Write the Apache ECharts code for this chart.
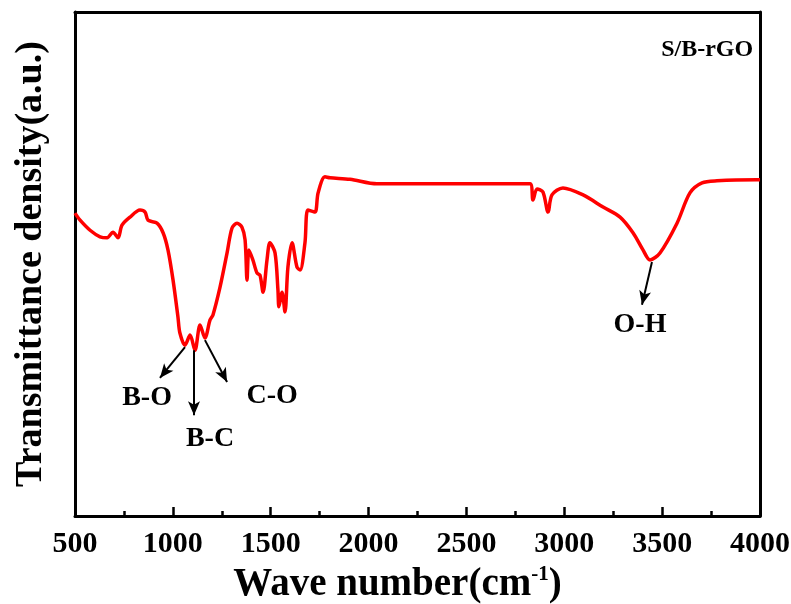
<!DOCTYPE html>
<html><head><meta charset="utf-8">
<script src="https://cdn.jsdelivr.net/npm/echarts@6/dist/echarts.min.js"></script>
<style>html,body{margin:0;padding:0;background:#fff}#c{width:791px;height:604px}</style>
</head><body><div id="c"></div>
<script>
var waveNumbers = [500,526,577,628,664,694,720,740,781,832,858,873,919,950,975,1001,1026,1036,1062,1088,1113,1139,1164,1190,1205,1241,1277,1302,1328,1353,1369,1379,1389,1409,1430,1445,1461,1481,1496,1522,1537,1542,1558,1573,1588,1609,1634,1650,1675,1690,1726,1742,1777,1803,1905,2043,2416,2825,2840,2861,2891,2917,2937,2993,3096,3198,3285,3351,3402,3438,3489,3576,3642,3704,3780,3985,4000];
var transmittance = [60.1,58.7,56.7,55.4,55.2,56.3,55.2,57.7,59.3,60.7,60.3,58.7,58.1,56.2,52.8,46.8,39.5,36.3,33.9,35.9,32.9,37.9,35.3,38.9,39.9,45.4,52.2,57.1,58.1,57.3,54.8,46.8,52.8,50.8,48.2,47.8,44.4,50.8,54.2,52.2,44.8,41.5,44.4,40.5,49.4,54.2,49.4,48.8,54.2,60.7,60.3,64.1,67.3,67.1,66.8,65.9,65.9,65.9,62.7,64.9,64.3,60.3,63.7,65.1,63.7,61.3,59.3,56.2,52.8,50.8,52.2,58.1,64.1,66.1,66.5,66.7,66.7];
var xTicks = [500,1000,1500,2000,2500,3000,3500,4000];
var peakLabels = ['B-O','B-C','C-O','O-H'];
var arrowStarts = [[1062,33.5],[1108,32.9],[1164,34.9],[3448,50.4]];
var arrowEnds = [[934,27.4],[1108,20.0],[1277,26.6],[3397,41.9]];
var labelPos = [[868,23.4],[1190,15.3],[1507,23.8],[3387,38.0]];
var sampleName = 'S/B-rGO';
var samplePos = [3730,92.5];

var font = '"Liberation Serif","Times New Roman",serif';
var chart = echarts.init(document.getElementById('c'));
var pts = waveNumbers.map(function(x,i){return [x, transmittance[i]];});
var arrowLines = arrowStarts.map(function(s,i){
  return [{coord:s, symbol:'none'},{coord:arrowEnds[i], symbol:'arrow'}];
});
var labelPoints = labelPos.map(function(p,i){
  return {coord:p, value:peakLabels[i]};
});
labelPoints.push({coord:samplePos, value:sampleName, label:{fontSize:24}});
chart.setOption({
  animation:false,
  backgroundColor:'#fff',
  grid:{left:75,right:31,top:12,bottom:88,containLabel:false,outerBoundsMode:'none'},
  xAxis:[{
    type:'value', min:500, max:4000, interval:500,
    axisLine:{onZero:false,lineStyle:{color:'#000',width:3}},
    axisTick:{inside:true,length:9,lineStyle:{color:'#000',width:2.5}},
    minorTick:{show:true,splitNumber:2,length:5,lineStyle:{color:'#000',width:2.5}},
    splitLine:{show:false},
    axisLabel:{color:'#000',fontFamily:font,fontWeight:'bold',fontSize:30,margin:13,
      formatter:function(v){return xTicks.indexOf(v)>=0?String(v):'';}},
    name:'{a|Wave number(cm}{b|-1}{a|)}', nameLocation:'middle', nameGap:48,
    nameTextStyle:{padding:[0,40,0,0],rich:{
      a:{fontFamily:font,fontWeight:'bold',fontSize:39,color:'#000'},
      b:{fontFamily:font,fontWeight:'bold',fontSize:21,color:'#000',verticalAlign:'top',padding:[0,0,20,0]}
    }}
  },{
    type:'value', min:500, max:4000, position:'top',
    axisLine:{onZero:false,lineStyle:{color:'#000',width:3}},
    axisTick:{show:false},axisLabel:{show:false},splitLine:{show:false}
  }],
  yAxis:[{
    type:'value', min:0, max:100,
    axisLine:{show:true,onZero:false,lineStyle:{color:'#000',width:3}},
    axisTick:{show:false},axisLabel:{show:false},splitLine:{show:false},
    name:'Transmittance density(a.u.)', nameLocation:'middle', nameGap:25,
    nameTextStyle:{fontFamily:font,fontWeight:'bold',fontSize:38,color:'#000'}
  },{
    type:'value', min:0, max:100, position:'right',
    axisLine:{show:true,onZero:false,lineStyle:{color:'#000',width:3}},
    axisTick:{show:false},axisLabel:{show:false},splitLine:{show:false}
  }],
  series:[{
    type:'line', data:pts, showSymbol:false, smooth:0.3,
    lineStyle:{color:'#ff0000',width:3.5},
    markLine:{
      silent:true, symbolSize:[9,14],
      lineStyle:{color:'#000',width:2,type:'solid'},
      label:{show:false},
      data:arrowLines
    },
    markPoint:{
      silent:true, symbol:'circle', symbolSize:0,
      label:{show:true,position:'inside',color:'#000',fontFamily:font,fontWeight:'bold',fontSize:28,
        formatter:function(p){return p.value;}},
      data:labelPoints
    }
  }]
});
</script></body></html>
